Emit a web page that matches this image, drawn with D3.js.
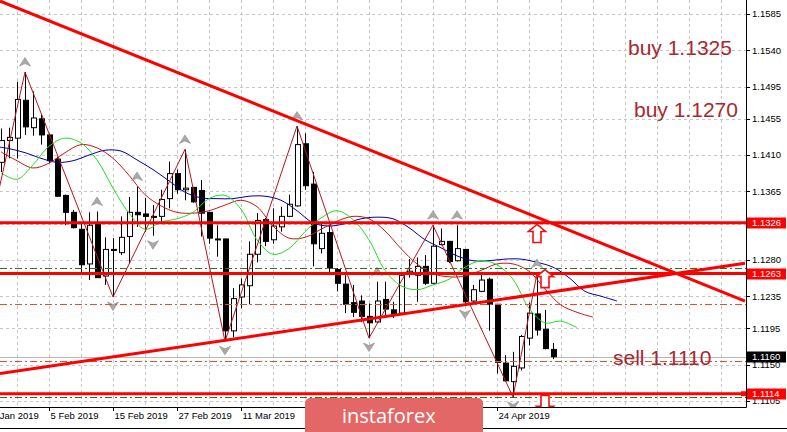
<!DOCTYPE html>
<html><head><meta charset="utf-8">
<script src="https://cdn.jsdelivr.net/npm/d3@7"></script>
<style>html,body{margin:0;padding:0;background:#fff;overflow:hidden}svg{display:block}</style>
</head><body>
<svg id="chart" width="787" height="432"></svg>
<script>
// ---------- DATA ----------
const dates = ["01-28","01-29","01-30","01-31","02-01","02-04","02-05","02-06","02-07","02-08","02-11","02-12","02-13","02-14","02-15","02-18","02-19","02-20","02-21","02-22","02-25","02-26","02-27","02-28","03-01","03-04","03-05","03-06","03-07","03-08","03-11","03-12","03-13","03-14","03-15","03-18","03-19","03-20","03-21","03-22","03-25","03-26","03-27","03-28","03-29","04-01","04-02","04-03","04-04","04-05","04-08","04-09","04-10","04-11","04-12","04-15","04-16","04-17","04-18","04-19","04-22","04-23","04-24","04-25","04-26","04-29","04-30","05-01","05-02","05-03"];
const open  = [1.1401,1.1428,1.1431,1.1478,1.1444,1.1455,1.1435,1.1405,1.1360,1.1339,1.1318,1.1275,1.1325,1.1260,1.1293,1.1289,1.1309,1.1339,1.1337,1.1334,1.1334,1.1356,1.1387,1.1367,1.1370,1.1366,1.1339,1.1306,1.1306,1.1192,1.1234,1.1248,1.1287,1.1330,1.1305,1.1321,1.1334,1.1347,1.1424,1.1374,1.1294,1.1314,1.1268,1.1250,1.1227,1.1229,1.1210,1.1203,1.1231,1.1218,1.1214,1.1263,1.1261,1.1272,1.1251,1.1299,1.1303,1.1279,1.1293,1.1229,1.1241,1.1256,1.1225,1.1152,1.1129,1.1146,1.1183,1.1213,1.1194,1.1169];
const high  = [1.1443,1.1444,1.1501,1.1513,1.1489,1.1460,1.1437,1.1408,1.1361,1.1342,1.1327,1.1339,1.1340,1.1308,1.1307,1.1334,1.1358,1.1371,1.1357,1.1348,1.1367,1.1402,1.1392,1.1417,1.1370,1.1379,1.1339,1.1323,1.1306,1.1245,1.1257,1.1303,1.1338,1.1332,1.1344,1.1346,1.1361,1.1446,1.1437,1.1389,1.1327,1.1323,1.1270,1.1261,1.1249,1.1236,1.1226,1.1253,1.1253,1.1228,1.1265,1.1281,1.1283,1.1286,1.1323,1.1319,1.1303,1.1323,1.1293,1.1249,1.1263,1.1258,1.1225,1.1162,1.1166,1.1187,1.1227,1.1263,1.1218,1.1177];
const low   = [1.1389,1.1406,1.1406,1.1435,1.1434,1.1423,1.1400,1.1358,1.1323,1.1319,1.1265,1.1255,1.1258,1.1249,1.1234,1.1286,1.1276,1.1321,1.1315,1.1310,1.1325,1.1344,1.1362,1.1354,1.1351,1.1309,1.1300,1.1284,1.1179,1.1184,1.1220,1.1225,1.1277,1.1297,1.1300,1.1315,1.1333,1.1346,1.1367,1.1272,1.1288,1.1261,1.1241,1.1214,1.1209,1.1203,1.1183,1.1202,1.1210,1.1208,1.1212,1.1258,1.1228,1.1249,1.1251,1.1298,1.1276,1.1278,1.1224,1.1228,1.1240,1.1192,1.1139,1.1129,1.1110,1.1143,1.1174,1.1186,1.1169,1.1157];
const close = [1.1428,1.1432,1.1479,1.1445,1.1456,1.1435,1.1403,1.1359,1.1339,1.1320,1.1274,1.1323,1.1258,1.1293,1.1292,1.1308,1.1339,1.1336,1.1334,1.1333,1.1355,1.1387,1.1367,1.1369,1.1352,1.1338,1.1307,1.1305,1.1192,1.1232,1.1249,1.1287,1.1329,1.1303,1.1322,1.1334,1.1349,1.1423,1.1372,1.1300,1.1313,1.1270,1.1251,1.1225,1.1215,1.1210,1.1202,1.1229,1.1219,1.1212,1.1261,1.1266,1.1272,1.1251,1.1297,1.1303,1.1278,1.1294,1.1228,1.1243,1.1255,1.1225,1.1153,1.1130,1.1148,1.1185,1.1214,1.1193,1.1170,1.1160];

// Alligator lines (sampled every 2 bars, drawn shifted forward)
const jawStart = -1;
const jaw   = [1.1421,1.1418,1.1413,1.1406,1.1401,1.1403,1.1410,1.1416,1.1415,1.1404,1.1392,1.1378,1.1364,1.1357,1.1356,1.1356,1.1359,1.1359,1.1354,1.1341,1.1326,1.1322,1.1325,1.1331,1.1333,1.1331,1.1320,1.1305,1.1295,1.1285,1.1279,1.1279,1.1281,1.1281,1.1277,1.1271,1.1258,1.1241,1.1235,1.1229];
const teethStart = 0;
const teeth = [1.1414,1.1403,1.1394,1.1400,1.1413,1.1423,1.1419,1.1406,1.1385,1.1361,1.1347,1.1339,1.1338,1.1341,1.1348,1.1354,1.1346,1.1322,1.1307,1.1308,1.1318,1.1328,1.1334,1.1331,1.1316,1.1294,1.1275,1.1263,1.1259,1.1260,1.1267,1.1275,1.1275,1.1266,1.1244,1.1224,1.1215,1.1209];
const lipsStart = 0;
const lips  = [1.1388,1.1380,1.1398,1.1421,1.1431,1.1425,1.1404,1.1369,1.1338,1.1318,1.1327,1.1331,1.1339,1.1356,1.1360,1.1343,1.1305,1.1287,1.1294,1.1315,1.1332,1.1341,1.1330,1.1305,1.1267,1.1248,1.1243,1.1249,1.1256,1.1271,1.1279,1.1274,1.1256,1.1220,1.1202,1.1204,1.1196];

// ZigZag swing points
const zzIdx = [-2,3,14,23,28,37,46,54,64,67];
const zzVal = [1.1289,1.1513,1.1234,1.1417,1.1179,1.1446,1.1183,1.1323,1.1110,1.1263];

// Fractals
const fractalUp   = [3,12,17,23,37,47,54,57,67];
const fractalDown = [14,19,28,46,58,64];

// Levels
const redLevels   = [1.1326,1.1263,1.1114];
const greenDashed = [1.1270,1.1110];
const redDashed   = [1.1225,1.1155];
const bidPrice    = 1.1160;

// Trend lines [idx1, price1, idx2, price2]
const trendLines = [[-0.125,1.16011,93,1.12290],[-0.125,1.11390,93,1.12758]];

// Hollow signal arrows
const sigIdx = [67,68,68];
const sigTop = [1.1324,1.1268,1.1112];
const sigDir = ["up","up","down"];

// Axis ticks (date labels hidden by the logo are not shown in the reference)
const priceTicks = [1.1585,1.1540,1.1495,1.1455,1.1410,1.1365,1.1325,1.1280,1.1235,1.1195,1.1150,1.1105];
const dateTickIdx = [-2,6,14,22,30,62];
const dateTickLabels = ["24 Jan 2019","5 Feb 2019","15 Feb 2019","27 Feb 2019","11 Mar 2019","24 Apr 2019"];

// Annotations
const noteText  = ["buy 1.1325","buy 1.1270","sell 1.1110"];
const notePrice = [1.1534,1.1457,1.1150];

// ---------- DRAW ----------
const svg = d3.select("#chart");
const plotW = 746, plotH = 407;
const x = d3.scaleLinear().domain([0, dates.length - 1]).range([1, 553]);
const y = d3.scaleLinear().domain([1.1105, 1.1585]).range([401, 14]);
const axisFont = "'Liberation Sans', Arial, sans-serif";

svg.append("defs").append("clipPath").attr("id","clip")
  .append("rect").attr("x",0).attr("y",0).attr("width",plotW).attr("height",plotH);
const g = svg.append("g").attr("clip-path","url(#clip)");

// grid
const gridX = d3.range(2, 92, 4);
g.selectAll(".vg").data(gridX).join("line")
  .attr("x1",d=>Math.round(x(d))+0.5).attr("x2",d=>Math.round(x(d))+0.5)
  .attr("y1",0).attr("y2",plotH)
  .attr("stroke","#c6c6c6").attr("stroke-dasharray","3,3");
g.selectAll(".hg").data(priceTicks).join("line")
  .attr("x1",0).attr("x2",plotW)
  .attr("y1",d=>Math.round(y(d))+0.5).attr("y2",d=>Math.round(y(d))+0.5)
  .attr("stroke","#c6c6c6").attr("stroke-dasharray","3,3");

// bid line
g.append("line").attr("x1",0).attr("x2",plotW)
  .attr("y1",Math.round(y(bidPrice))+0.5).attr("y2",Math.round(y(bidPrice))+0.5)
  .attr("stroke","#b8b8b8");

// candles
const idx = d3.range(dates.length);
const cg = g.append("g");
cg.selectAll(".wick").data(idx).join("line")
  .attr("x1",i=>Math.round(x(i))+0.5).attr("x2",i=>Math.round(x(i))+0.5)
  .attr("y1",i=>y(high[i])).attr("y2",i=>y(low[i]))
  .attr("stroke","#000").attr("stroke-width",1);
cg.selectAll(".body").data(idx).join("rect")
  .attr("x",i=>Math.round(x(i))-2+0.5)
  .attr("y",i=>Math.min(y(open[i]),y(close[i])))
  .attr("width",5)
  .attr("height",i=>Math.max(1,Math.abs(y(open[i])-y(close[i]))))
  .attr("fill",i=>close[i]>=open[i]?"#fff":"#000")
  .attr("stroke","#000").attr("stroke-width",1);

// alligator
function sampled(arr,start){return arr.map((v,k)=>[start+2*k,v]);}
const line = d3.line().x(d=>x(d[0])).y(d=>y(d[1])).curve(d3.curveCatmullRom.alpha(0.5));
g.append("path").attr("d",line(sampled(jaw,jawStart))).attr("fill","none").attr("stroke","#0000a8").attr("stroke-width",1);
g.append("path").attr("d",line(sampled(teeth,teethStart))).attr("fill","none").attr("stroke","#c81818").attr("stroke-width",1);
g.append("path").attr("d",line(sampled(lips,lipsStart))).attr("fill","none").attr("stroke","#22dd22").attr("stroke-width",1);

// zigzag
const zzLine = d3.line().x(d=>x(d[0])).y(d=>y(d[1]));
g.append("path").attr("d",zzLine(zzIdx.map((v,k)=>[v,zzVal[k]])))
  .attr("fill","none").attr("stroke","#b4141e").attr("stroke-width",1);

// fractal arrows
const upShape = "M0,-4.5L5.5,4L0,1.5L-5.5,4Z";
const downShape = "M0,4.5L5.5,-4L0,-1.5L-5.5,-4Z";
g.selectAll(".fu").data(fractalUp).join("path")
  .attr("d",upShape).attr("transform",i=>`translate(${x(i)},${y(high[i])-10})`)
  .attr("fill","#a9a9a9").attr("stroke","#8a8a8a").attr("stroke-width",0.6);
g.selectAll(".fd").data(fractalDown).join("path")
  .attr("d",downShape).attr("transform",i=>`translate(${x(i)},${y(low[i])+9})`)
  .attr("fill","#a9a9a9").attr("stroke","#8a8a8a").attr("stroke-width",0.6);

// dashed levels
g.selectAll(".gd").data(greenDashed).join("line")
  .attr("x1",0).attr("x2",plotW).attr("y1",d=>Math.round(y(d))+0.5).attr("y2",d=>Math.round(y(d))+0.5)
  .attr("stroke","#1f7a1f").attr("stroke-dasharray","7,3,2,3");
g.selectAll(".rd").data(redDashed).join("line")
  .attr("x1",0).attr("x2",plotW).attr("y1",d=>Math.round(y(d))+0.5).attr("y2",d=>Math.round(y(d))+0.5)
  .attr("stroke","#e0502c").attr("stroke-dasharray","7,3,2,3");

// thick red levels
g.selectAll(".rl").data(redLevels).join("line")
  .attr("x1",0).attr("x2",plotW).attr("y1",d=>y(d)).attr("y2",d=>y(d))
  .attr("stroke","#f00").attr("stroke-width",3);

// trend lines
g.selectAll(".tl").data(trendLines).join("line")
  .attr("x1",d=>x(d[0])).attr("y1",d=>y(d[1])).attr("x2",d=>x(d[2])).attr("y2",d=>y(d[3]))
  .attr("stroke","#f00").attr("stroke-width",3);

// hollow signal arrows
const sigUp = "M0,0L8.5,7L4,7L4,18L-4,18L-4,7L-8.5,7Z";
const sigDown = "M-4,0L4,0L4,11L8.5,11L0,18L-8.5,11L-4,11Z";
g.selectAll(".sig").data(d3.range(sigIdx.length)).join("path")
  .attr("d",k=>sigDir[k]==="up"?sigUp:sigDown)
  .attr("transform",k=>`translate(${x(sigIdx[k])},${y(sigTop[k])})`)
  .attr("fill","#fff").attr("stroke","#f01010").attr("stroke-width",1.6);

// selection handle on the 1.1114 level
g.append("rect").attr("x",plotW-5).attr("y",y(redLevels[2])-2.5).attr("width",5).attr("height",5).attr("fill","#f00");

// annotation texts
const noteX = [628,634,613];
g.selectAll(".note").data(noteText).join("text")
  .attr("x",(d,k)=>noteX[k]).attr("y",(d,k)=>y(notePrice[k]))
  .text(d=>d)
  .attr("font-family",axisFont).attr("font-size",21).attr("fill","#a8282e");

// axes frame
svg.append("line").attr("x1",plotW+0.5).attr("x2",plotW+0.5).attr("y1",0).attr("y2",plotH+0.5).attr("stroke","#000");
svg.append("line").attr("x1",0).attr("x2",plotW+0.5).attr("y1",plotH+0.5).attr("y2",plotH+0.5).attr("stroke","#000");
svg.append("line").attr("x1",0).attr("x2",787).attr("y1",428.5).attr("y2",428.5).attr("stroke","#000");

// price axis
svg.selectAll(".pt").data(priceTicks).join("line")
  .attr("x1",plotW).attr("x2",plotW+4).attr("y1",d=>Math.round(y(d))+0.5).attr("y2",d=>Math.round(y(d))+0.5).attr("stroke","#000");
svg.selectAll(".pl").data(priceTicks).join("text")
  .attr("x",752).attr("y",d=>y(d)).attr("dy","0.35em")
  .text(d=>d.toFixed(4))
  .attr("font-family",axisFont).attr("font-size",9.5).attr("fill","#000");

// price boxes
const boxes = redLevels.map(v=>({v,c:"#f00"})).concat([{v:bidPrice,c:"#000"}]);
const bg = svg.selectAll(".pb").data(boxes).join("g")
  .attr("transform",d=>`translate(747,${Math.round(y(d.v))})`);
bg.append("rect").attr("x",0).attr("y",-5.5).attr("width",39).attr("height",11).attr("fill",d=>d.c);
bg.append("text").attr("x",5).attr("y",0).attr("dy","0.35em").text(d=>d.v.toFixed(4))
  .attr("font-family",axisFont).attr("font-size",9.5).attr("fill","#fff");

// date axis
svg.selectAll(".dt").data(dateTickIdx).join("line")
  .attr("x1",i=>Math.round(x(i))+0.5).attr("x2",i=>Math.round(x(i))+0.5)
  .attr("y1",plotH).attr("y2",plotH+4).attr("stroke","#000");
svg.selectAll(".dl").data(dateTickIdx).join("text")
  .attr("x",i=>x(i)+1.5).attr("y",419)
  .text((i,k)=>dateTickLabels[k])
  .attr("font-family",axisFont).attr("font-size",9.5).attr("fill","#000");

// logo
const logo = svg.append("g");
logo.append("rect").attr("x",305).attr("y",398).attr("width",178).attr("height",44).attr("rx",5).attr("fill","#e36767");
logo.append("text").attr("x",342).attr("y",423).text("instaforex")
  .attr("font-family","'Open Sans', sans-serif").attr("font-size",20).attr("fill","#fff");
</script>
</body></html>
